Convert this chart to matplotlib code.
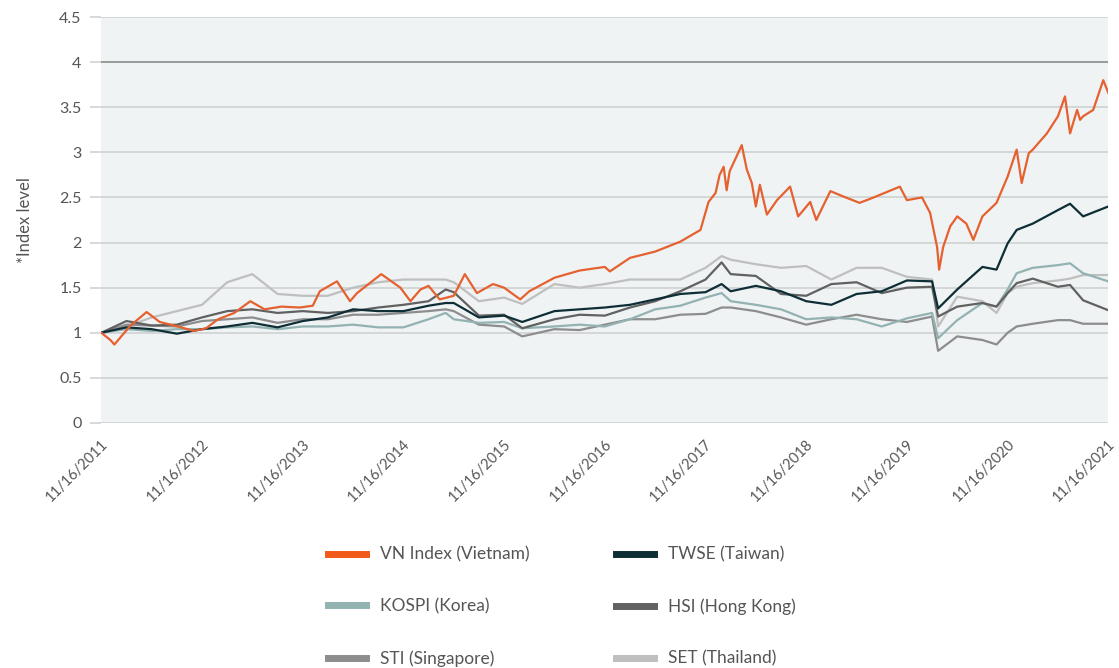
import matplotlib.pyplot as plt
import numpy as np

plt.rcParams['font.family'] = ['Lato', 'DejaVu Sans']

# dates as decimal years, values are index levels (11/16/2011 = 1)
years = [2011.88, 2012.13, 2012.38, 2012.63, 2012.88, 2013.13, 2013.38, 2013.63, 2013.88,
         2014.13, 2014.38, 2014.63, 2014.88, 2015.13, 2015.30, 2015.38, 2015.63, 2015.88,
         2016.06, 2016.38, 2016.63, 2016.88, 2017.13, 2017.38, 2017.63, 2017.88, 2018.04,
         2018.13, 2018.38, 2018.63, 2018.88, 2019.13, 2019.38, 2019.63, 2019.88, 2020.13,
         2020.19, 2020.38, 2020.63, 2020.77, 2020.88, 2020.97, 2021.13, 2021.38, 2021.50,
         2021.63, 2021.88]

twse = [1.00, 1.06, 1.04, 0.99, 1.04, 1.07, 1.11, 1.06, 1.13, 1.17, 1.26, 1.24, 1.24, 1.30,
        1.33, 1.33, 1.17, 1.19, 1.12, 1.24, 1.26, 1.28, 1.31, 1.37, 1.43, 1.45, 1.54, 1.46,
        1.52, 1.46, 1.35, 1.31, 1.43, 1.46, 1.58, 1.57, 1.27, 1.48, 1.73, 1.70, 1.99, 2.14,
        2.21, 2.36, 2.43, 2.29, 2.40]
kospi = [1.00, 1.04, 1.02, 1.04, 1.04, 1.06, 1.07, 1.04, 1.07, 1.07, 1.09, 1.06, 1.06, 1.15,
         1.22, 1.15, 1.11, 1.12, 1.05, 1.07, 1.09, 1.07, 1.15, 1.26, 1.30, 1.39, 1.44, 1.35,
         1.31, 1.26, 1.15, 1.17, 1.15, 1.07, 1.16, 1.22, 0.94, 1.14, 1.33, 1.29, 1.48, 1.66,
         1.72, 1.75, 1.77, 1.66, 1.57]
hsi = [1.00, 1.13, 1.08, 1.09, 1.17, 1.24, 1.26, 1.22, 1.24, 1.22, 1.24, 1.28, 1.31, 1.35,
       1.48, 1.45, 1.19, 1.20, 1.05, 1.15, 1.20, 1.19, 1.28, 1.35, 1.46, 1.59, 1.78, 1.65,
       1.63, 1.43, 1.41, 1.54, 1.56, 1.44, 1.50, 1.51, 1.18, 1.29, 1.33, 1.29, 1.44, 1.55,
       1.60, 1.51, 1.53, 1.36, 1.25]
sti = [1.00, 1.09, 1.08, 1.07, 1.13, 1.15, 1.17, 1.11, 1.15, 1.15, 1.20, 1.20, 1.22, 1.24,
       1.26, 1.24, 1.09, 1.07, 0.96, 1.04, 1.03, 1.09, 1.15, 1.15, 1.20, 1.21, 1.28, 1.28,
       1.24, 1.17, 1.09, 1.15, 1.20, 1.15, 1.12, 1.18, 0.80, 0.96, 0.92, 0.87, 1.00, 1.07,
       1.10, 1.14, 1.14, 1.10, 1.10]
set_th = [1.00, 1.07, 1.17, 1.24, 1.31, 1.56, 1.65, 1.43, 1.41, 1.41, 1.50, 1.56, 1.59, 1.59,
          1.59, 1.56, 1.35, 1.39, 1.32, 1.54, 1.50, 1.54, 1.59, 1.59, 1.59, 1.72, 1.85, 1.81,
          1.76, 1.72, 1.74, 1.59, 1.72, 1.72, 1.62, 1.59, 1.07, 1.40, 1.35, 1.22, 1.44, 1.51,
          1.55, 1.58, 1.60, 1.64, 1.64]

vn_years = [2011.88, 2011.97, 2012.01, 2012.17, 2012.33, 2012.46, 2012.64, 2012.80, 2012.92,
            2013.04, 2013.20, 2013.36, 2013.50, 2013.67, 2013.85, 2013.98, 2014.05, 2014.22,
            2014.35, 2014.42, 2014.66, 2014.85, 2014.95, 2015.05, 2015.13, 2015.24, 2015.38,
            2015.49, 2015.61, 2015.77, 2015.88, 2016.04, 2016.13, 2016.38, 2016.63, 2016.88,
            2016.93, 2017.13, 2017.38, 2017.63, 2017.83, 2017.91, 2017.98, 2018.02, 2018.06,
            2018.09, 2018.12, 2018.24, 2018.29, 2018.34, 2018.38, 2018.42, 2018.49, 2018.59,
            2018.72, 2018.80, 2018.92, 2018.98, 2019.12, 2019.25, 2019.41, 2019.55, 2019.81,
            2019.88, 2020.03, 2020.11, 2020.18, 2020.20, 2020.24, 2020.31, 2020.38, 2020.47,
            2020.54, 2020.63, 2020.77, 2020.88, 2020.97, 2021.02, 2021.09, 2021.13, 2021.27,
            2021.38, 2021.45, 2021.50, 2021.57, 2021.60, 2021.63, 2021.73, 2021.83, 2021.88]
vn = [1.00, 0.92, 0.87, 1.08, 1.23, 1.12, 1.07, 1.02, 1.05,
      1.15, 1.22, 1.35, 1.26, 1.29, 1.28, 1.30, 1.46, 1.57,
      1.35, 1.44, 1.65, 1.50, 1.35, 1.48, 1.52, 1.37, 1.41,
      1.65, 1.44, 1.54, 1.50, 1.37, 1.46, 1.61, 1.69, 1.73,
      1.68, 1.83, 1.90, 2.01, 2.14, 2.45, 2.55, 2.75, 2.84,
      2.58, 2.79, 3.08, 2.81, 2.66, 2.40, 2.64, 2.31, 2.47,
      2.62, 2.29, 2.45, 2.25, 2.57, 2.51, 2.44, 2.50, 2.62,
      2.47, 2.50, 2.33, 1.95, 1.70, 1.95, 2.18, 2.29, 2.21,
      2.03, 2.29, 2.44, 2.73, 3.03, 2.66, 2.99, 3.03, 3.21,
      3.40, 3.62, 3.21, 3.47, 3.36, 3.40, 3.47, 3.80, 3.66]

tick_years = [2011.877 + i for i in range(11)]
tick_labels = ['11/16/%d' % (2011 + i) for i in range(11)]
y_ticks = np.arange(0, 4.51, 0.5)

c_vn, c_twse, c_kospi = '#e5612f', '#0e2e35', '#93b2b2'
c_hsi, c_sti, c_set = '#616161', '#8d8d8d', '#bfbfbf'

fig = plt.figure(figsize=(11.19, 6.68), dpi=100)
ax = fig.add_axes([101 / 1119, 1 - 423 / 668, 1007 / 1119, 406 / 668])
ax.set_facecolor('#eff3f4')

lw = 1.6
ax.plot(years, set_th, color=c_set, lw=lw)
ax.plot(years, sti, color=c_sti, lw=lw)
ax.plot(years, kospi, color=c_kospi, lw=lw)
ax.plot(years, hsi, color=c_hsi, lw=lw)
ax.plot(years, twse, color=c_twse, lw=lw)
ax.plot(vn_years, vn, color=c_vn, lw=lw)

ax.set_xlim(tick_years[0], tick_years[-1])
ax.set_ylim(0, 4.5)
for s in ax.spines.values():
    s.set_visible(False)

for v in y_ticks:
    ax.axhline(v, color='#8a8a8a' if v == 4 else '#cfd2d3', lw=1.2, zorder=0.5)
ax.set_yticks(y_ticks)
ax.set_yticklabels(['%g' % v for v in y_ticks])
ax.tick_params(axis='y', length=8, width=1.2, color='#cfd2d3', pad=6,
               labelsize=11.5, labelcolor='#555555')
ax.set_xticks(tick_years)
ax.set_xticklabels(tick_labels, rotation=45, ha='right', rotation_mode='anchor')
ax.tick_params(axis='x', length=0, pad=10, labelsize=10.5, labelcolor='#555555')
ax.set_ylabel('*Index level', fontsize=12, color='#555555', labelpad=19)

handles = [plt.Line2D([], [], color=c, lw=5) for c in
           ['#f25a1a', c_kospi, c_sti, c_twse, c_hsi, c_set]]
labels = ['VN Index (Vietnam)', 'KOSPI (Korea)', 'STI (Singapore)',
          'TWSE (Taiwan)', 'HSI (Hong Kong)', 'SET (Thailand)']
fig.legend(handles, labels, ncol=2, loc='upper left', bbox_to_anchor=(312 / 1119, 1 - 531 / 668),
           frameon=False, fontsize=12.5, labelcolor='#555555', handlelength=2.2,
           handletextpad=0.8, labelspacing=2.05, columnspacing=5.0)

fig.savefig('out.png', dpi=100)
